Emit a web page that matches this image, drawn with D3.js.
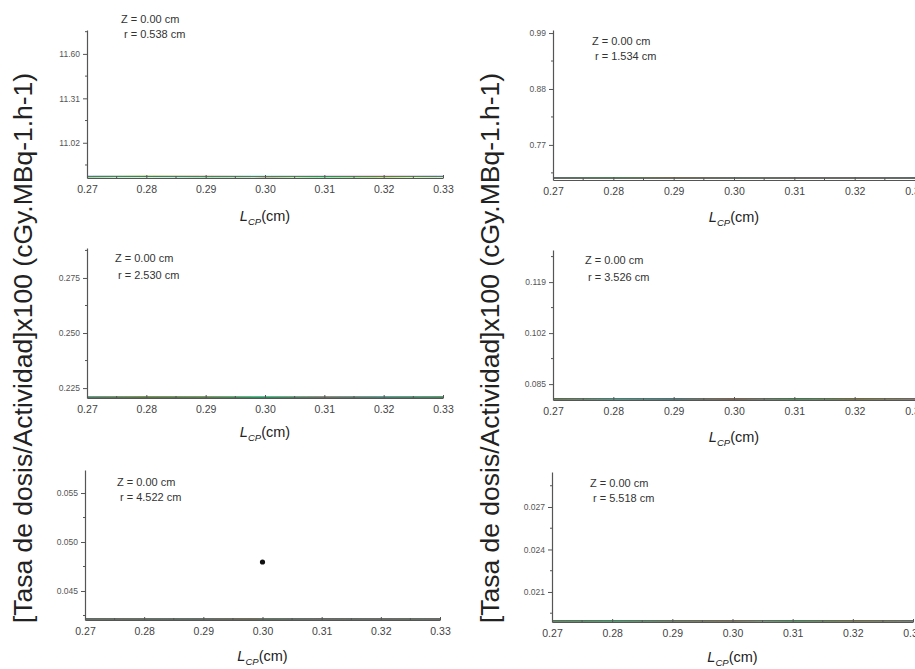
<!DOCTYPE html>
<html><head><meta charset="utf-8">
<script src="https://cdn.jsdelivr.net/npm/d3@7"></script>
<style>
html,body{margin:0;padding:0;background:#fff;}
svg{display:block;font-family:"Liberation Sans",Arial,sans-serif;}
</style></head>
<body><svg id="c" width="915" height="669"></svg>
<script>
// ---- data ----
const xValues = [0.27, 0.28, 0.29, 0.30, 0.31, 0.32, 0.33];
const xTickLabels = ["0.27","0.28","0.29","0.30","0.31","0.32","0.33"];
const zLabels = ["Z = 0.00 cm","Z = 0.00 cm","Z = 0.00 cm","Z = 0.00 cm","Z = 0.00 cm","Z = 0.00 cm"];
const rLabels = ["r = 0.538 cm","r = 1.534 cm","r = 2.530 cm","r = 3.526 cm","r = 4.522 cm","r = 5.518 cm"];
const yTicksP1 = [11.02, 11.31, 11.60];
const yTicksP2 = [0.77, 0.88, 0.99];
const yTicksP3 = [0.225, 0.250, 0.275];
const yTicksP4 = [0.085, 0.102, 0.119];
const yTicksP5 = [0.045, 0.050, 0.055];
const yTicksP6 = [0.021, 0.024, 0.027];
const yTickFormats = [".2f", ".2f", ".3f", ".3f", ".3f", ".3f"];
const yDomainsP = [[10.79, 11.756], [0.701, 0.996], [0.2205, 0.2886], [0.0797, 0.1297], [0.04204, 0.05735], [0.01888, 0.02947]];
const seriesColors = ["#e8e000", "#00c8c8", "#d020d0", "#3040ff", "#e02020", "#20a040"];
// series values (flat lines at bottom of each panel), one value per series per x
const seriesP1 = [[10.800,10.801,10.799,10.800,10.800,10.799,10.800],[10.800,10.799,10.800,10.801,10.799,10.800,10.800],[10.799,10.800,10.800,10.799,10.801,10.801,10.799],[10.801,10.800,10.799,10.800,10.800,10.800,10.801],[10.800,10.800,10.801,10.799,10.800,10.799,10.800],[10.799,10.801,10.800,10.800,10.799,10.800,10.800]];
const seriesP2 = [[0.7050,0.7052,0.7048,0.7050,0.7050,0.7048,0.7050],[0.7050,0.7048,0.7050,0.7052,0.7048,0.7050,0.7050],[0.7048,0.7050,0.7050,0.7048,0.7052,0.7052,0.7048],[0.7052,0.7050,0.7048,0.7050,0.7050,0.7050,0.7052],[0.7050,0.7050,0.7052,0.7048,0.7050,0.7048,0.7050],[0.7048,0.7052,0.7050,0.7050,0.7048,0.7050,0.7050]];
const seriesP3 = [[0.2208,0.2209,0.2207,0.2208,0.2208,0.2207,0.2208],[0.2208,0.2207,0.2208,0.2209,0.2207,0.2208,0.2208],[0.2207,0.2208,0.2208,0.2207,0.2209,0.2209,0.2207],[0.2209,0.2208,0.2207,0.2208,0.2208,0.2208,0.2209],[0.2208,0.2208,0.2209,0.2207,0.2208,0.2207,0.2208],[0.2207,0.2209,0.2208,0.2208,0.2207,0.2208,0.2208]];
const seriesP4 = [[0.0801,0.0802,0.0800,0.0801,0.0801,0.0800,0.0801],[0.0801,0.0800,0.0801,0.0802,0.0800,0.0801,0.0801],[0.0800,0.0801,0.0801,0.0800,0.0802,0.0802,0.0800],[0.0802,0.0801,0.0800,0.0801,0.0801,0.0801,0.0802],[0.0801,0.0801,0.0802,0.0800,0.0801,0.0800,0.0801],[0.0800,0.0802,0.0801,0.0801,0.0800,0.0801,0.0801]];
const seriesP5 = [[0.04214,0.04216,0.04212,0.04214,0.04214,0.04212,0.04214],[0.04214,0.04212,0.04214,0.04216,0.04212,0.04214,0.04214],[0.04212,0.04214,0.04214,0.04212,0.04216,0.04216,0.04212],[0.04216,0.04214,0.04212,0.04214,0.04214,0.04214,0.04216],[0.04214,0.04214,0.04216,0.04212,0.04214,0.04212,0.04214],[0.04212,0.04216,0.04214,0.04214,0.04212,0.04214,0.04214]];
const seriesP6 = [[0.01897,0.01898,0.01896,0.01897,0.01897,0.01896,0.01897],[0.01897,0.01896,0.01897,0.01898,0.01896,0.01897,0.01897],[0.01896,0.01897,0.01897,0.01896,0.01898,0.01898,0.01896],[0.01898,0.01897,0.01896,0.01897,0.01897,0.01897,0.01898],[0.01897,0.01897,0.01898,0.01896,0.01897,0.01896,0.01897],[0.01896,0.01898,0.01897,0.01897,0.01896,0.01897,0.01897]];
const pointP5 = [{x: 0.30, y: 0.04796}];
const yTitle = "[Tasa de dosis/Actividad]x100 (cGy.MBq-1.h-1)";

// ---- layout ----
const yTicksAll = [yTicksP1, yTicksP2, yTicksP3, yTicksP4, yTicksP5, yTicksP6];
const seriesAll = [seriesP1, seriesP2, seriesP3, seriesP4, seriesP5, seriesP6];
const layout = [
  {ax: 87,  xr: 443, top: 30,  bot: 178, zx: 121, zy: 23,  rx: 124, ry: 38,  tdy: 43},
  {ax: 553, xr: 915, top: 30,  bot: 180, zx: 592, zy: 45,  rx: 595, ry: 60,  tdy: 42},
  {ax: 87,  xr: 443, top: 248, bot: 398, zx: 115, zy: 262, rx: 118, ry: 279, tdy: 39},
  {ax: 553, xr: 915, top: 250, bot: 400, zx: 585, zy: 264, rx: 588, ry: 281, tdy: 42},
  {ax: 85,  xr: 440, top: 470, bot: 620, zx: 117, zy: 486, rx: 120, ry: 501, tdy: 41},
  {ax: 552, xr: 913, top: 472, bot: 622, zx: 590, zy: 487, rx: 593, ry: 502, tdy: 40}
];

const svg = d3.select("#c");
const axisColor = "#555";

layout.forEach((L, i) => {
  const g = svg.append("g");
  const x = d3.scaleLinear().domain([xValues[0], xValues[xValues.length - 1]]).range([L.ax, L.xr]);
  const y = d3.scaleLinear().domain(yDomainsP[i]).range([L.bot, L.top]);

  // series lines
  const line = d3.line().x((d, k) => x(xValues[k])).y(d => y(d));
  seriesAll[i].forEach((s, j) => {
    g.append("path").attr("d", line(s)).attr("fill", "none")
      .attr("stroke", seriesColors[j]).attr("stroke-width", 1.1).attr("opacity", 0.9);
  });

  // x axis
  const xAxis = d3.axisBottom(x).tickValues(xValues).tickFormat((d, k) => xTickLabels[k])
    .tickSizeInner(-3).tickSizeOuter(0).tickPadding(8);
  const gx = g.append("g").attr("transform", `translate(0,${L.bot})`).call(xAxis);
  gx.select(".domain").attr("stroke", axisColor).attr("stroke-width", 1.2);
  gx.selectAll(".tick line").attr("stroke", axisColor);
  gx.selectAll(".tick text").attr("fill", "#444").attr("font-size", "10.5px")
    .attr("font-family", "Liberation Sans, Arial, sans-serif");
  // minor x ticks
  const xMinor = xValues.slice(0, -1).map((v, k) => (v + xValues[k + 1]) / 2);
  g.selectAll(null).data(xMinor).enter().append("line")
    .attr("x1", d => x(d)).attr("x2", d => x(d)).attr("y1", L.bot).attr("y2", L.bot - 2)
    .attr("stroke", axisColor);

  // y axis
  const yt = yTicksAll[i];
  const yAxis = d3.axisLeft(y).tickValues(yt).tickFormat(d3.format(yTickFormats[i]))
    .tickSizeInner(4).tickSizeOuter(0).tickPadding(3);
  const gy = g.append("g").attr("transform", `translate(${L.ax},0)`).call(yAxis);
  gy.select(".domain").attr("stroke", axisColor).attr("stroke-width", 1.2);
  gy.selectAll(".tick line").attr("stroke", axisColor);
  gy.selectAll(".tick text").attr("fill", "#555").attr("font-size", "8.5px")
    .attr("font-family", "Liberation Sans, Arial, sans-serif");
  const step = yt[1] - yt[0];
  const yMinor = [yt[0] - step / 2, ...yt.slice(0, -1).map((v, k) => (v + yt[k + 1]) / 2), yt[yt.length - 1] + step / 2]
    .filter(v => v >= yDomainsP[i][0] && v <= yDomainsP[i][1]);
  g.selectAll(null).data(yMinor).enter().append("line")
    .attr("x1", L.ax).attr("x2", L.ax - 2).attr("y1", d => y(d)).attr("y2", d => y(d))
    .attr("stroke", axisColor);

  // annotations
  g.append("text").attr("x", L.zx).attr("y", L.zy).attr("font-size", "11px").attr("fill", "#333").text(zLabels[i]);
  g.append("text").attr("x", L.rx).attr("y", L.ry).attr("font-size", "11px").attr("fill", "#333").text(rLabels[i]);

  // x title
  const xt = g.append("text").attr("x", x(0.30)).attr("y", L.bot + L.tdy)
    .attr("text-anchor", "middle").attr("font-size", "14.5px").attr("fill", "#222");
  xt.append("tspan").attr("font-style", "italic").text("L");
  xt.append("tspan").attr("font-style", "italic").attr("font-size", "9.5px").attr("dy", 4).text("CP");
  xt.append("tspan").attr("dy", -4).text("(cm)");

  // point
  if (i === 4) {
    g.selectAll(null).data(pointP5).enter().append("circle")
      .attr("cx", d => x(d.x)).attr("cy", d => y(d.y)).attr("r", 2.6).attr("fill", "#111");
  }
});

// y titles
[{x: 32, y: 348}, {x: 499, y: 348}].forEach(p => {
  svg.append("text").attr("transform", `translate(${p.x},${p.y}) rotate(-90)`)
    .attr("text-anchor", "middle").attr("font-size", "26.5px").attr("fill", "#222").text(yTitle);
});
</script></body></html>
